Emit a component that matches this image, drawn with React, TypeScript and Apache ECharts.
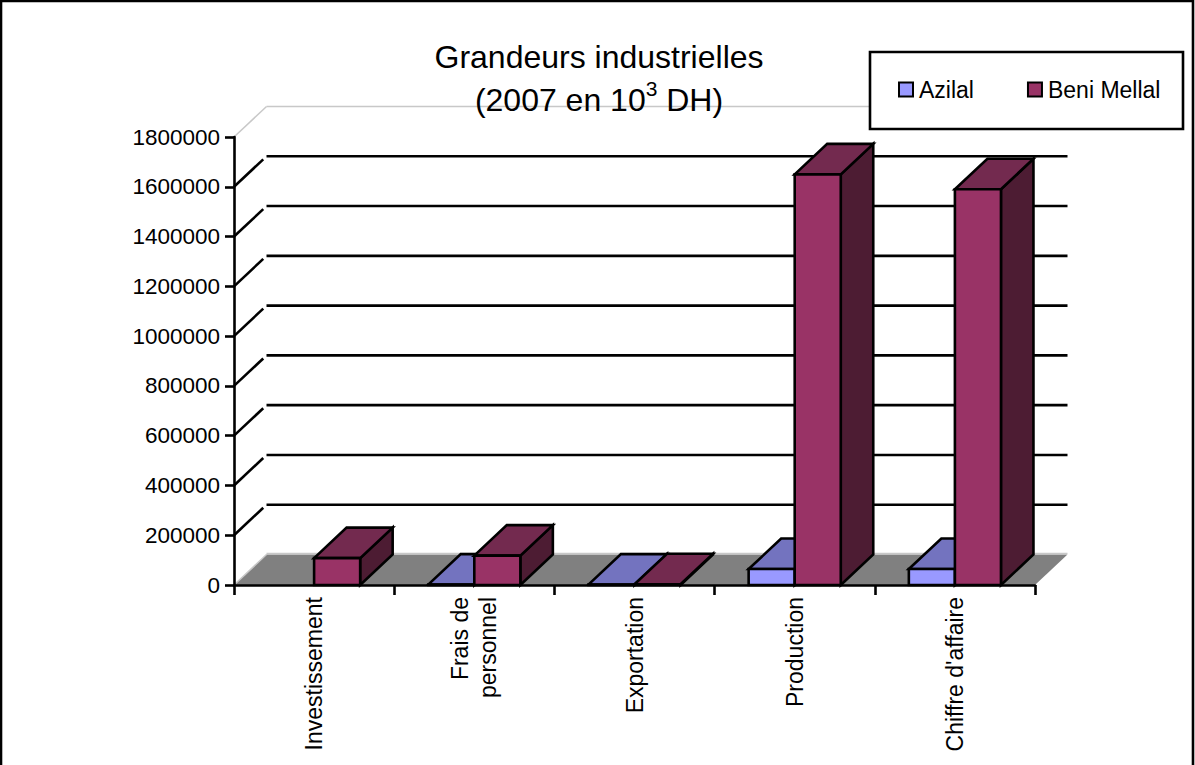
import React, { useEffect, useRef } from "react";
import * as echarts from "echarts";

const categories = ["Investissement", "Frais de\npersonnel", "Exportation", "Production", "Chiffre d'affaire"];
const azilal: (number | null)[] = [null, 1500, 1500, 64000, 64000];
const beniMellal: number[] = [108000, 118000, 3000, 1650000, 1590000];
const gridValues = [0, 200000, 400000, 600000, 800000, 1000000, 1200000, 1400000, 1600000, 1800000];

const DEPTH_X = 32.5;
const DEPTH_Y = -30.5;
const FONT = "'Liberation Sans', Arial, sans-serif";

function barRenderer(side: -1 | 0, front: string, top: string, right: string) {
  return (_p: any, api: any) => {
    const i = api.value(0);
    const v = api.value(1);
    if (v == null || isNaN(v)) return null;
    const band = api.size([1, 0])[0];
    const w = band * 0.2875;
    const c0 = api.coord([i, 0]);
    const c1 = api.coord([i, v]);
    const x0 = c0[0] + side * w;
    const x1 = x0 + w;
    const y0 = c0[1];
    const y1 = c1[1];
    const st = (fill: string) => ({ fill, stroke: "#000", lineWidth: 2.6, lineJoin: "miter" });
    return {
      type: "group",
      children: [
        {
          type: "polygon",
          shape: { points: [[x1, y0], [x1 + DEPTH_X, y0 + DEPTH_Y], [x1 + DEPTH_X, y1 + DEPTH_Y], [x1, y1]] },
          style: st(right),
        },
        {
          type: "polygon",
          shape: { points: [[x0, y1], [x1, y1], [x1 + DEPTH_X, y1 + DEPTH_Y], [x0 + DEPTH_X, y1 + DEPTH_Y]] },
          style: st(top),
        },
        {
          type: "polygon",
          shape: { points: [[x0, y0], [x1, y0], [x1, y1], [x0, y1]] },
          style: st(front),
        },
      ],
    };
  };
}

function floorRenderer(_p: any, api: any) {
  const a = api.coord([0, 0]);
  const band = api.size([1, 0])[0];
  const x0 = a[0] - band / 2;
  const x1 = x0 + band * categories.length;
  const y = a[1];
  return {
    type: "polygon",
    shape: { points: [[x0, y], [x0 + DEPTH_X, y + DEPTH_Y], [x1 + DEPTH_X, y + DEPTH_Y], [x1, y]] },
    style: { fill: "#808080", stroke: "none" },
  };
}

function gridRenderer(_p: any, api: any) {
  const v = api.value(1);
  const a = api.coord([0, v]);
  const band = api.size([1, 0])[0];
  const x0 = a[0] - band / 2;
  const x1 = x0 + band * categories.length;
  const y = a[1];
  const light = v === 0 || v === 1800000;
  const style = { stroke: light ? "#c8c8c8" : "#000", lineWidth: light ? 1.5 : 2.6, fill: "none" };
  return {
    type: "group",
    children: [
      {
        type: "line",
        shape: { x1: x0, y1: y, x2: x0 + DEPTH_X * (light ? 1 : 0.9), y2: y + DEPTH_Y * (light ? 1 : 0.9) },
        style,
      },
      {
        type: "line",
        shape: { x1: x0 + DEPTH_X, y1: y + DEPTH_Y - (v === 0 ? 1 : 0), x2: x1 + DEPTH_X, y2: y + DEPTH_Y - (v === 0 ? 1 : 0) },
        style,
      },
    ],
  };
}

export default function App() {
  const ref = useRef<HTMLDivElement>(null);
  useEffect(() => {
    document.body.style.margin = "0";
    const chart = echarts.init(ref.current!, undefined, { renderer: "svg" });
    chart.setOption({
      animation: false,
      backgroundColor: "#fff",
      textStyle: { fontFamily: FONT },
      title: {
        text: "Grandeurs industrielles\n(2007 en 10{sup|3} DH)",
        left: 594,
        top: 30,
        textAlign: "center",
        textStyle: {
          fontFamily: FONT,
          fontSize: 32,
          fontWeight: "normal",
          color: "#000",
          lineHeight: 43,
          rich: {
            sup: { fontFamily: FONT, fontSize: 21, color: "#000", verticalAlign: "top", lineHeight: 30 },
          },
        },
      },
      legend: {
        data: [
          { name: "Azilal", itemStyle: { color: "#9999FF", borderColor: "#000", borderWidth: 2 } },
          { name: "Beni Mellal", itemStyle: { color: "#993366", borderColor: "#000", borderWidth: 2 } },
        ],
        left: 898,
        top: 78,
        icon: "rect",
        itemWidth: 14,
        itemHeight: 14,
        itemGap: 53,
        padding: 0,
        z: 20,
        selectedMode: false,
        textStyle: { fontFamily: FONT, fontSize: 23, color: "#000", padding: [0, 0, 0, 1] },
      },
      graphic: [
        {
          type: "rect",
          z: 10,
          shape: { x: 870, y: 52, width: 313, height: 77 },
          style: { fill: "#fff", stroke: "#000", lineWidth: 2.6 },
        },
        {
          type: "polyline",
          z: 10,
          shape: { points: [[1, 765], [1, 1], [1193, 1], [1193, 765]] },
          style: { fill: "none", stroke: "#000", lineWidth: 2.6 },
        },
      ],
      grid: { left: 234, top: 137, width: 801, height: 448 },
      xAxis: {
        type: "category",
        data: categories,
        z: 8,
        axisLine: { lineStyle: { color: "#000", width: 2.6 } },
        axisTick: { show: true, length: 10, lineStyle: { color: "#000", width: 2.6 } },
        axisLabel: {
          rotate: 90,
          interval: 0,
          margin: 12,
          fontFamily: FONT,
          fontSize: 23,
          lineHeight: 28,
          color: "#000",
        },
        splitLine: { show: false },
      },
      yAxis: {
        type: "value",
        min: 0,
        max: 1800000,
        interval: 200000,
        z: 8,
        axisLine: { show: true, lineStyle: { color: "#000", width: 2.6 } },
        axisTick: { show: true, length: 9, lineStyle: { color: "#000", width: 2.6 } },
        axisLabel: { margin: 14, fontFamily: FONT, fontSize: 22.5, color: "#000", formatter: (v: number) => String(v) },
        splitLine: { show: false },
      },
      series: [
        { type: "custom", name: "floor", silent: true, z: 1, clip: false, renderItem: floorRenderer, data: [[0, 0]], encode: { x: 0, y: 1 } },
        {
          type: "custom",
          name: "grid",
          silent: true,
          z: 2,
          clip: false,
          renderItem: gridRenderer,
          data: gridValues.map((v) => [0, v]),
          encode: { x: 0, y: 1 },
        },
        {
          type: "custom",
          name: "Azilal",
          z: 3,
          clip: false,
          itemStyle: { color: "#9999FF" },
          renderItem: barRenderer(-1, "#9999FF", "#7373BF", "#4D4D80"),
          data: azilal.map((v, i) => [i, v]),
          encode: { x: 0, y: 1 },
        },
        {
          type: "custom",
          name: "Beni Mellal",
          z: 4,
          clip: false,
          itemStyle: { color: "#993366" },
          renderItem: barRenderer(0, "#993366", "#732A4F", "#4D1C33"),
          data: beniMellal.map((v, i) => [i, v]),
          encode: { x: 0, y: 1 },
        },
      ],
    });
    return () => chart.dispose();
  }, []);
  return <div ref={ref} style={{ position: "absolute", left: 0, top: 0, width: 1195, height: 765 }} />;
}
